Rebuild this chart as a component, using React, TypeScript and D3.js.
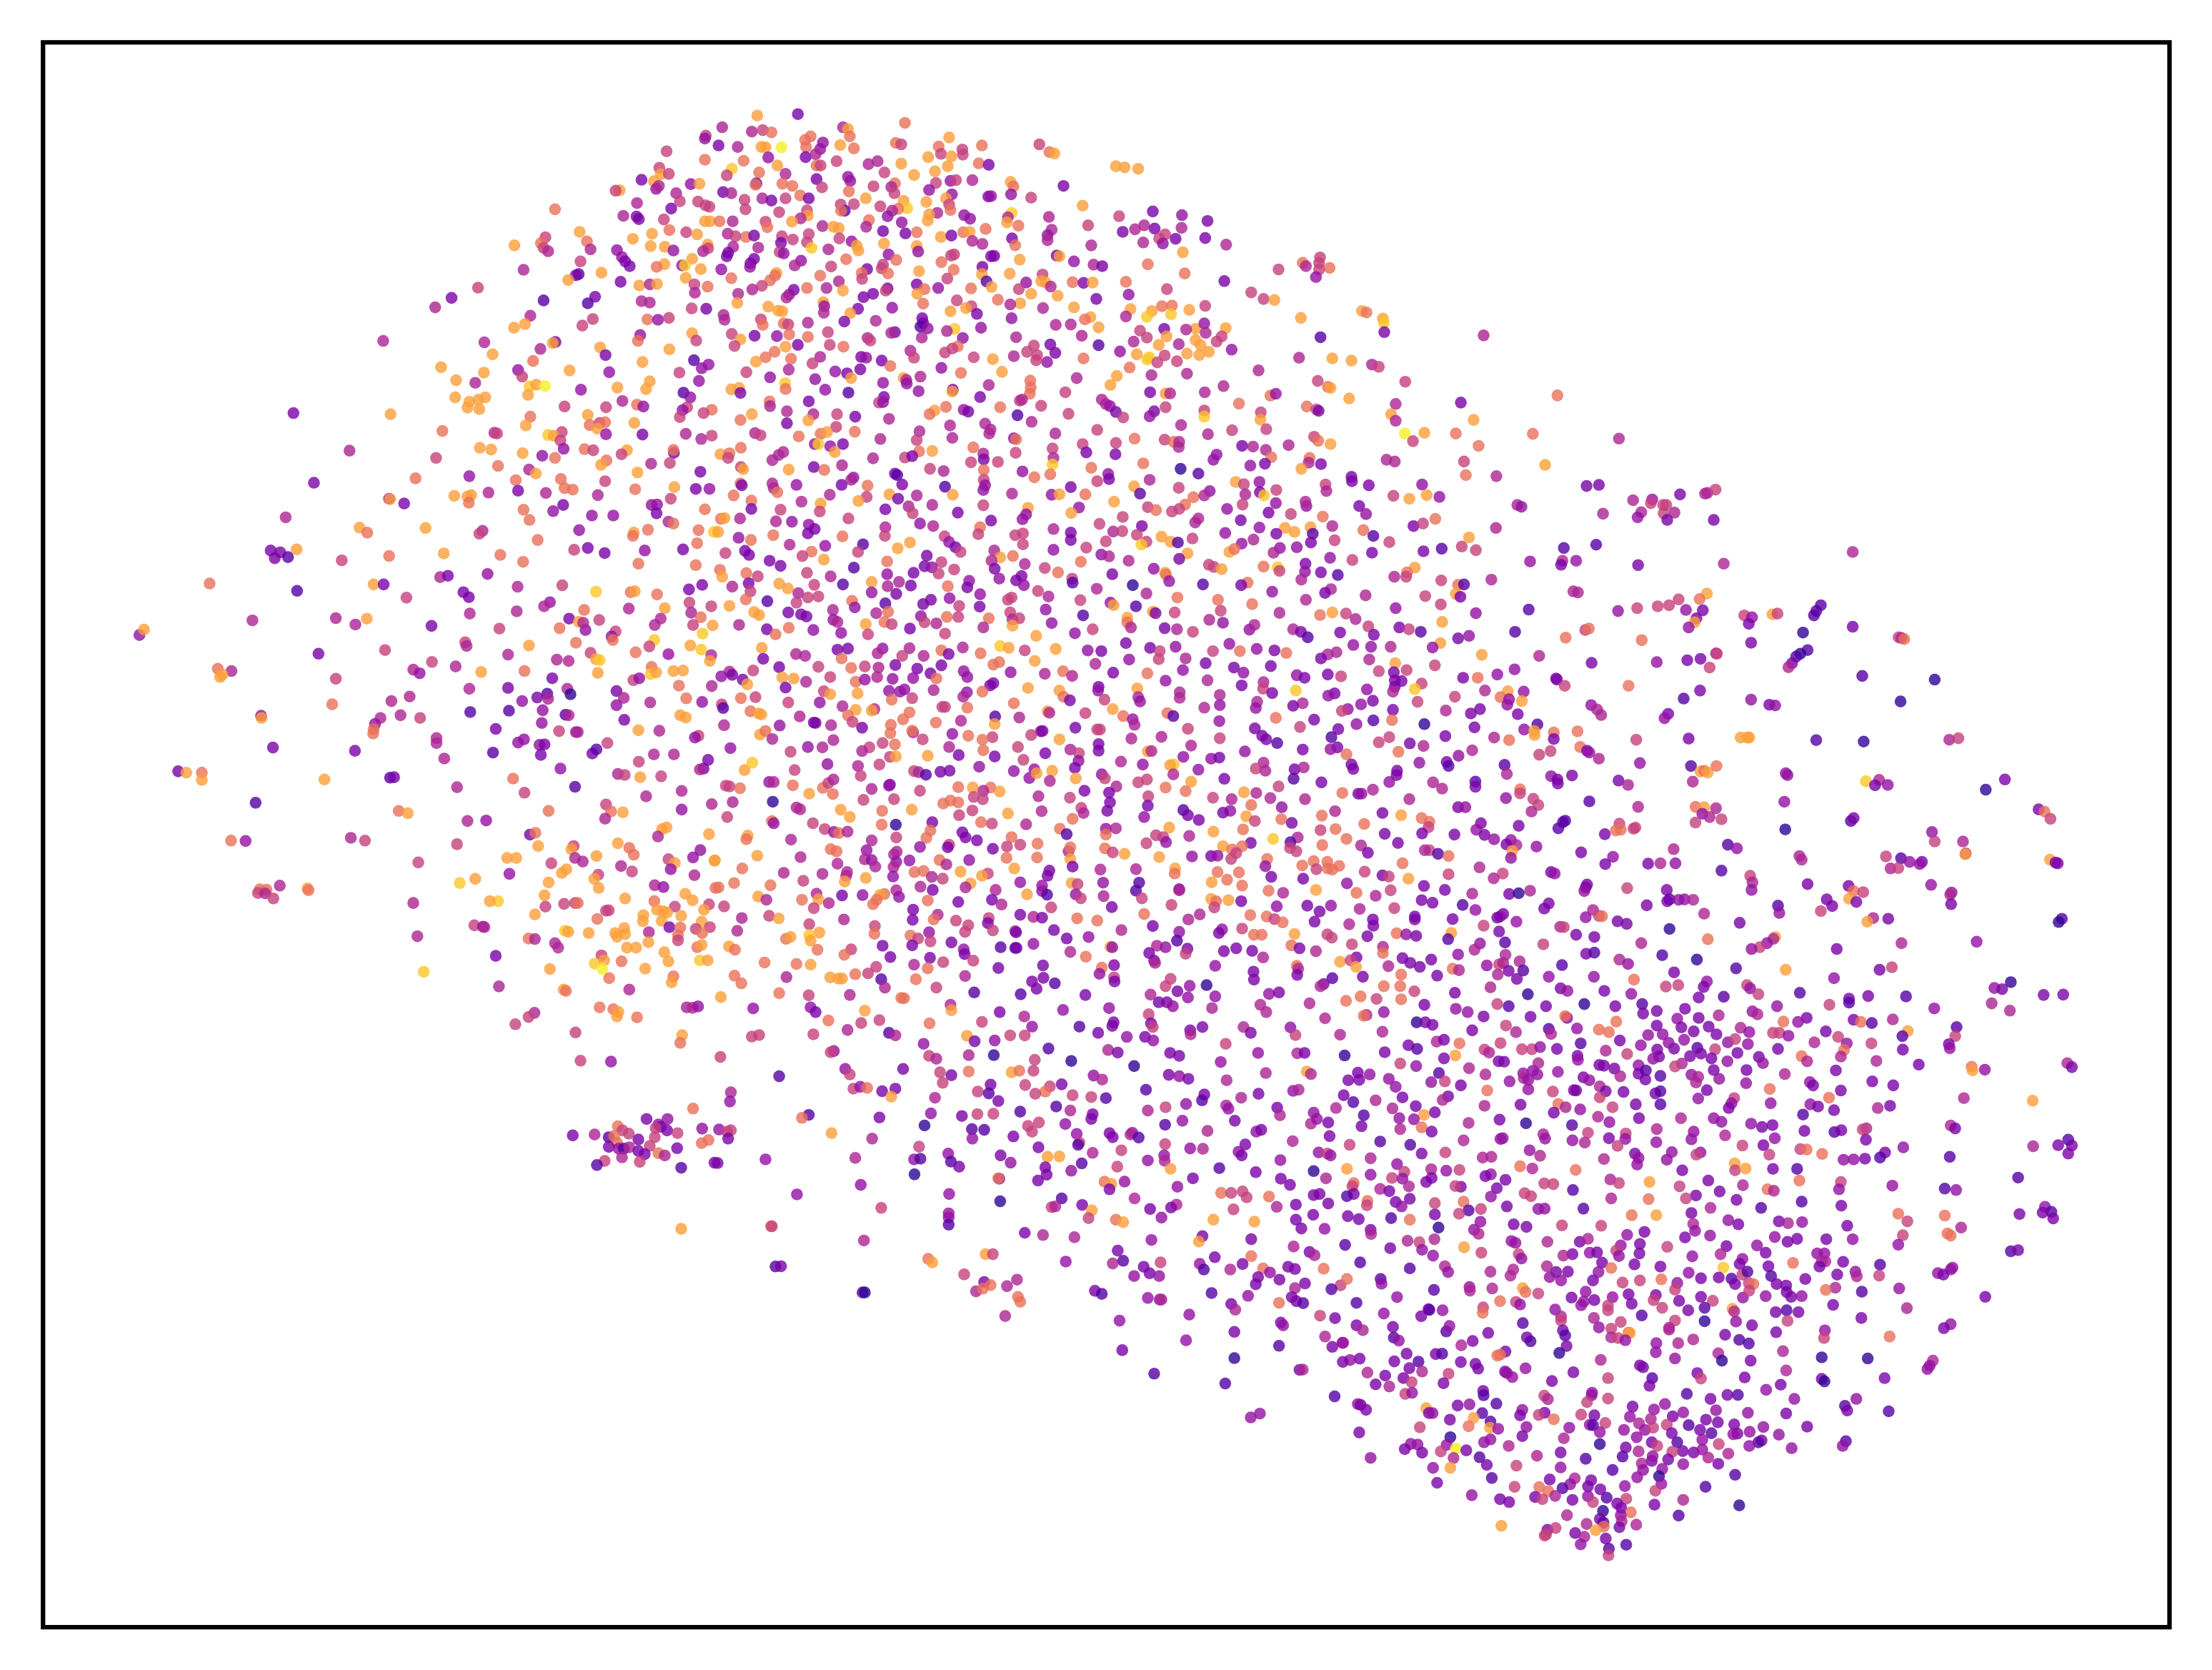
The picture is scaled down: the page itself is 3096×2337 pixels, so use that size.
import React, { useMemo } from 'react';
import * as d3 from 'd3';

// every dot read by eye from zoomed crops of the plot: x, y (crop pixels), colour level 1-10
const upperLeft = [
1549,372,6,1547,380,4,1463,415,6,1547,438,7,1447,460,6,1450,478,8,1468,477,6,1408,493,3,1435,497,8,1360,522,8,1351,523,6,1440,518,4,1446,510,5,1516,505,4,1535,504,8,1484,530,5,1398,557,5,1492,552,6,1532,553,6,1548,563,6,1557,567,6,1218,574,7,1473,572,3,1368,592,5,1397,594,3,1402,601,3,1457,602,6,1547,607,8,1558,607,8,1469,631,7,1506,637,6,1272,636,8,1530,643,8,1431,641,8,1389,655,8,1197,651,6,1187,667,7,1288,662,7,1129,673,8,1428,675,8,1459,677,8,1553,671,8,1554,681,6,1543,689,5,1193,680,6,1203,689,5,1296,684,5,1354,686,4,1478,687,4,1365,705,4,1372,717,3,1274,717,6,1519,710,8,1497,728,4,1503,728,9,1458,725,8,1441,732,7,1382,730,3,1538,738,8,1149,740,5,1270,752,2,1264,755,3,1320,748,8,1505,762,8,1247,768,8,1362,773,3,1403,783,8,1426,780,5,1442,779,8,1524,780,6,1553,786,7,1049,789,6,1525,803,5,991,817,3,1193,824,2,1306,814,3,1290,832,2,955,843,5,1408,826,5,1426,830,5,1518,846,6,1550,847,3,1164,866,5,1301,875,6,1421,876,7,1444,877,4,1468,872,6,1152,889,8,1128,899,8,1278,893,6,1519,914,8,1405,919,4,1400,935,7,1528,934,6,841,935,5,1063,939,5,1219,938,3,1213,941,8,1317,953,8,1186,957,5,1469,958,8,1081,972,8,1329,974,3,1170,990,7,1410,993,8,1523,988,2,1540,1010,4,1555,1000,4,968,1007,8,1062,1022,8,1137,1015,4,1146,1033,6,1250,1016,8,1337,1021,4,1491,1022,6,1001,1043,8,1043,1050,5,1426,1046,8,1534,1045,4,1162,1060,9,1177,1055,8,1196,1059,10,1275,1069,4,1355,1063,8,1418,1067,8,1159,1083,8,1500,1077,2,999,1090,8,1030,1102,8,1050,1096,8,1065,1090,8,1515,1090,4,1366,1100,5,1398,1110,7,1412,1115,4,1026,1118,8,1052,1122,8,1239,1115,6,1330,1117,6,1508,1117,6,1498,1125,4,1562,1124,7,644,1133,3,857,1136,8,1290,1138,8,1164,1143,7,1492,1144,6,1544,1133,6,1154,1167,8,1392,1160,8,1294,1166,7,1316,1160,6,1328,1158,7,1311,1176,8,971,1182,7,1085,1187,5,1091,1189,6,1233,1185,6,1330,1191,4,1203,1193,9,1215,1195,8,1410,1192,3,1505,1190,5,1230,1208,6,1539,1204,5,1562,1195,6,767,1236,5,1053,1228,8,1078,1233,8,1237,1231,4,1283,1232,7,1302,1235,6,1376,1235,8,1479,1242,3,1478,1234,7,1147,1243,8,957,1256,6,1190,1250,4,1218,1256,7,1364,1246,6,1331,1263,7,1319,1275,8,1429,1272,5,1470,1270,6,689,1324,3,1093,1278,7,1161,1288,5,1176,1299,8,1537,1294,3,912,1312,7,1030,1306,4,1132,1317,7,1231,1314,7,1399,1296,8,1328,1320,6,1239,1339,7,1257,1343,7,1480,1336,8,1394,1342,7,1527,1341,3,1557,1341,4,854,1368,4,856,1369,8,887,1381,3,997,1360,8,1026,1362,8,1034,1358,8,1072,1351,5,1137,1346,3,1198,1352,5,1312,1358,5,1472,1368,6,1029,1379,7,1430,1385,4,1442,1384,4,1236,1385,3,1149,1398,7,1214,1402,4,1547,1397,7,1441,1408,3,627,1419,5,1162,1426,7,1299,1414,4,1346,1414,4,1467,1431,5,1478,1436,7,789,1447,8,806,1461,7,934,1448,8,1059,1456,5,1052,1464,6,1271,1454,4,1422,1453,7,1533,1454,7,1391,1461,8,1389,1470,7,1567,1459,9,1180,1481,7,594,1510,3,615,1515,3,651,1507,8,603,1531,3,632,1528,2,750,1537,6,854,1525,7,974,1518,8,1098,1522,7,1260,1508,6,1290,1503,3,1327,1517,3,1499,1507,3,1530,1490,7,1415,1510,4,1148,1541,7,1401,1546,7,1527,1550,7,
];

const upperMiddle = [
94,121,8,183,117,3,418,141,7,17,153,5,82,165,5,106,161,6,125,167,7,282,153,5,293,158,8,515,181,8,297,178,7,211,178,7,199,188,7,9,203,3,51,207,5,103,207,8,112,208,8,147,208,10,201,207,7,238,195,4,232,213,4,276,202,8,306,211,7,398,196,7,410,200,6,492,206,7,497,226,6,544,214,6,545,228,6,587,203,7,713,200,6,735,221,7,746,225,8,881,260,8,900,263,8,930,267,8,118,236,4,200,235,3,222,227,5,64,245,7,268,246,6,358,246,5,338,254,5,469,235,8,520,233,8,410,253,8,580,252,7,602,256,3,38,267,9,138,258,8,512,260,8,224,258,7,233,258,6,98,277,7,156,281,5,27,285,6,373,277,6,484,274,8,438,284,8,293,289,4,298,300,4,224,295,3,518,300,4,530,298,6,566,298,5,486,306,6,650,303,8,92,307,3,90,311,7,149,308,7,171,314,7,236,318,6,349,315,6,396,307,7,388,317,5,656,315,7,766,314,3,19,331,3,37,334,5,295,329,7,471,325,4,395,334,6,521,337,4,601,343,3,607,342,4,651,337,4,105,348,5,66,352,6,125,354,3,156,348,6,188,340,7,207,348,3,332,348,8,415,355,8,465,358,8,508,348,8,695,346,6,68,378,6,142,386,6,277,365,6,306,364,6,364,370,6,515,365,6,808,368,8,423,375,9,286,382,2,278,382,7,203,381,6,403,377,7,390,382,5,518,380,7,489,388,5,380,397,4,652,388,9,888,397,6,962,384,3,1026,394,4,205,395,8,189,403,5,471,392,8,734,399,5,548,394,4,561,404,4,644,400,5,642,414,8,1082,410,3,11,411,7,40,411,5,112,412,6,170,412,8,339,408,7,468,409,8,411,414,4,820,422,6,116,427,7,237,424,5,261,426,8,273,430,8,333,426,5,667,423,7,943,422,5,1025,429,5,923,433,5,966,431,3,370,438,3,419,444,3,29,445,5,444,441,7,546,441,7,560,440,8,595,432,7,740,434,5,896,440,3,69,454,7,87,450,3,148,452,6,207,446,6,497,454,8,520,450,3,653,458,3,731,449,4,989,447,6,46,452,6,172,461,6,146,470,3,274,458,6,301,466,4,566,465,5,588,473,5,731,463,5,976,458,6,1012,459,3,1077,457,3,941,469,5,984,472,4,203,468,6,372,472,8,312,478,8,660,477,7,827,477,5,1123,475,5,41,481,5,96,483,5,444,479,8,213,484,9,250,488,5,316,491,8,30,497,3,447,494,4,143,495,6,152,499,4,1028,496,8,27,507,3,382,502,4,607,507,3,614,506,3,751,505,3,757,507,8,519,505,6,526,502,6,87,514,3,289,515,7,399,517,7,670,516,8,789,521,4,951,529,7,79,526,3,78,536,4,190,519,4,176,532,5,256,535,6,370,530,6,498,523,7,588,536,3,832,530,5,851,534,3,1238,543,6,1291,525,7,1298,534,5,1329,510,6,1327,525,6,1350,539,7,15,543,4,335,542,3,449,548,8,525,544,7,367,540,6,136,553,8,323,553,7,381,554,7,1032,554,7,1327,543,6,232,560,7,648,555,8,720,557,6,587,556,8,37,567,7,122,573,7,324,569,6,511,568,6,1320,564,4,273,576,5,133,560,7,597,576,2,444,584,3,684,579,4,717,575,8,727,579,8,786,578,7,810,580,3,830,579,8,1119,575,3,903,577,7,104,588,6,380,595,3,376,601,6,491,594,4,608,591,8,738,590,5,668,597,6,83,598,5,174,599,3,203,594,7,246,594,5,282,601,8,461,597,7,993,597,6,1178,606,6,563,595,7,348,610,3,52,610,5,164,612,4,158,620,5,327,619,3,445,610,8,695,610,8,753,615,8,909,612,4,1205,624,6,1229,627,8,532,628,6,622,626,7,838,624,3,50,635,8,239,633,8,241,644,4,458,637,7,671,636,8,649,639,5,118,645,8,390,648,4,315,651,3,564,644,6,552,649,8,982,644,7,1004,642,7,789,647,8,1077,643,6,1042,654,8,140,656,8,149,658,8,240,662,5,518,658,8,721,649,5,576,665,3,913,652,8,960,657,8,1002,666,9,20,668,5,298,663,8,949,673,9,22,681,5,102,680,6,652,677,4,456,677,3,825,674,8,813,680,7,903,672,5,1287,676,8,1421,657,8,1431,661,7,1467,678,8,1469,689,9,285,686,3,354,684,5,152,691,7,162,694,6,106,695,7,205,689,5,458,690,3,782,694,5,749,695,5,585,703,4,843,702,8,1122,704,8,1056,706,8,1075,691,4,452,700,2,468,705,4,527,706,9,396,715,3,388,717,5,249,715,6,38,720,6,987,706,3,1035,708,5,1078,717,5,934,711,6,510,712,5,1470,715,3,88,725,3,137,726,4,164,721,7,205,728,7,662,729,5,806,725,5,992,727,8,455,730,5,1330,729,2,1113,727,6,57,735,8,336,731,5,342,738,6,545,731,4,949,730,6,1056,737,8,920,741,5,1102,741,6,44,753,6,183,750,3,156,755,8,253,750,6,283,755,7,1019,748,5,701,752,6,737,749,3,534,754,7,843,751,2,975,750,8,1067,751,8,522,760,6,430,766,5,890,768,4,1135,763,4,132,769,7,748,772,3,506,771,6,686,769,6,1085,769,8,708,778,6,927,776,8,1037,774,8,1064,778,8,232,783,5,657,781,5,438,785,6,569,784,6,988,779,6,954,784,9,1283,785,5,1356,787,8,112,784,7,168,788,7,322,783,3,333,785,4,730,797,4,810,787,7,611,789,8,367,793,3,950,790,9,91,796,8,215,801,6,706,792,6,1015,795,6,972,798,6,1398,793,8,1443,804,5,1458,810,6,386,808,7,498,813,4,1194,820,5,911,812,7,320,817,3,163,818,5,70,825,6,265,823,4,631,824,8,541,827,7,1037,829,5,291,828,3,959,833,5,122,839,4,221,844,4,300,841,8,795,841,5,883,835,8,415,841,8,421,846,5,452,837,5,693,848,7,1516,851,6,1324,849,6,422,856,4,370,854,4,155,855,9,156,871,7,869,860,8,1346,865,7,1352,868,8,1117,863,5,602,860,5,523,873,3,522,878,8,694,867,7,37,872,8,54,868,8,57,882,3,243,873,4,448,877,4,294,881,2,770,880,6,692,884,7,956,880,3,990,883,8,1000,883,5,1076,880,5,1220,889,7,1232,884,4,372,893,3,583,893,3,1393,897,8,850,900,5,
361,908,6,370,907,4,207,905,3,121,905,7,122,918,5,508,920,7,1151,911,7,859,912,5,868,918,4,627,921,7,717,917,6,670,903,6,675,900,5,1300,919,7,1495,912,5,1321,927,6,1326,931,3,990,921,6,881,934,3,897,949,6,483,930,8,472,940,7,547,928,4,557,933,3,159,932,5,217,940,5,269,940,6,82,940,8,1075,930,6,1199,935,6,965,932,3,955,946,4,777,939,6,665,943,2,1485,940,8,383,953,5,57,956,7,206,957,8,309,947,3,1075,947,9,1198,955,8,696,961,5,1495,958,5,1211,981,6,159,965,3,267,975,6,1024,970,5,517,971,5,594,966,5,606,982,5,1136,984,6,89,992,5,101,998,6,185,1001,7,233,994,7,247,989,8,308,988,7,450,987,5,603,993,5,748,993,5,840,983,6,1083,995,5,1515,993,10,1558,991,8,1533,1014,6,364,1008,5,444,1011,6,522,1005,5,657,1006,4,662,1009,7,922,1007,7,881,1019,6,808,1022,6,1316,1002,6,1325,1013,7,1352,1022,8,220,1022,4,228,1022,9,282,1022,3,254,1028,4,988,1010,6,1008,1016,7,1020,1016,5,58,1032,7,568,1031,7,1158,1027,3,1182,1029,5,1210,1038,5,1260,1025,5,742,1034,6,1019,1030,5,449,1042,7,478,1041,8,264,1044,8,151,1044,5,141,1052,5,590,1048,5,661,1046,6,816,1045,3,880,1050,3,1102,1051,4,13,1050,8,33,1047,7,418,1059,6,434,1055,3,127,1066,5,30,1060,6,348,1061,5,591,1064,3,744,1060,5,1095,1065,4,1222,1058,7,1306,1060,7,1475,1065,5,1493,1070,5,563,1072,6,622,1071,6,1304,1073,5,742,1078,9,941,1075,7,1331,1077,3,1176,1081,4,1208,1076,3,218,1085,3,280,1080,5,58,1085,6,63,1091,8,163,1092,8,241,1093,7,1288,1090,8,473,1090,6,503,1096,5,591,1093,7,827,1087,7,676,1097,4,396,1103,3,401,1107,2,305,1114,4,864,1104,4,866,1118,3,591,1120,6,737,1105,7,702,1113,7,955,1120,5,1398,1112,3,1399,1124,3,1436,1135,3,840,1124,6,412,1133,3,180,1134,4,127,1130,5,279,1134,3,300,1120,5,1023,1090,1,1062,1103,2,1144,1126,8,1196,1126,4,1162,1132,6,57,1130,7,60,1135,3,506,1139,2,594,1135,4,130,1143,5,336,1136,7,921,1138,8,1019,1142,6,1341,1133,6,1343,1151,5,1553,1133,4,782,1140,3,590,1148,4,1233,1148,6,444,1163,5,138,1154,7,934,1158,2,1087,1151,4,1197,1154,3,1206,1163,9,253,1161,5,42,1163,7,384,1160,8,523,1161,8,653,1158,5,740,1161,4,757,1160,8,814,1160,7,1165,1160,5,1490,1164,6,1563,1162,8,403,1172,3,334,1167,6,81,1177,7,1051,1168,7,1075,1163,5,1525,1172,8,316,1178,8,191,1180,5,877,1180,8,478,1189,5,233,1185,8,1232,1184,4,1033,1188,7,1299,1192,4,1297,1180,5,1159,1188,6,426,1193,5,590,1190,6,688,1197,8,951,1195,6,800,1196,4,1415,1192,3,81,1200,3,145,1202,6,375,1201,3,969,1203,7,1125,1200,4,1020,1200,6,1004,1207,6,1430,1214,4,231,1207,6,435,1212,6,534,1210,3,783,1211,8,1216,1210,3,684,1215,4,1265,1214,6,1335,1221,7,1062,1226,5,56,1226,5,294,1226,6,676,1228,4,896,1222,6,14,1227,7,22,1225,8,135,1234,5,170,1235,4,451,1240,4,607,1232,3,1155,1231,3,1055,1237,5,1356,1247,5,845,1241,6,1534,1247,3,1555,1240,6,207,1243,4,480,1247,5,938,1247,3,1252,1252,8,1196,1251,4,1308,1250,8,220,1255,3,375,1250,5,744,1255,5,583,1250,7,8,1263,8,782,1265,3,1424,1258,7,1446,1274,2,1121,1266,4,205,1267,3,129,1272,7,505,1275,6,579,1269,6,660,1272,6,677,1267,6,875,1262,5,895,1261,6,927,1271,6,1233,1268,3,1273,1263,8,1313,1268,2,53,1279,4,80,1285,7,281,1275,7,374,1274,6,981,1276,8,782,1285,3,859,1289,6,1049,1281,6,515,1291,4,1001,1290,8,1157,1295,4,1183,1284,5,1017,1292,2,1309,1292,3,1361,1286,6,1481,1291,6,165,1298,5,326,1297,2,243,1301,4,948,1290,6,937,1298,9,677,1297,6,529,1305,3,1241,1307,4,1278,1305,4,1556,1316,3,67,1315,3,76,1326,3,315,1318,6,213,1317,7,24,1321,6,402,1308,8,429,1292,8,540,1318,6,614,1314,5,816,1306,6,744,1312,4,1443,1320,3,1227,1320,5,1038,1322,8,1130,1318,8,1141,1310,7,849,1325,4,866,1330,5,193,1329,6,466,1328,3,627,1333,8,655,1329,7,1020,1337,3,1351,1334,4,1400,1340,6,121,1342,3,240,1339,8,379,1344,7,498,1346,6,608,1342,5,909,1342,5,804,1345,7,145,1356,3,681,1351,5,461,1357,3,477,1360,4,526,1366,6,615,1364,3,725,1362,6,1085,1353,6,1096,1359,6,1113,1365,8,1205,1358,7,1236,1360,9,1297,1350,3,1537,1361,8,306,1361,2,12,1367,7,203,1375,6,492,1377,6,754,1374,7,964,1364,4,1240,1370,6,1296,1372,4,70,1376,7,379,1379,4,1331,1374,3,1368,1381,2,1492,1386,5,1520,1374,7,1518,1386,6,989,1375,8,991,1380,7,873,1379,3,95,1385,6,17,1386,8,255,1385,5,437,1375,3,674,1384,3,625,1391,4,785,1391,6,998,1398,4,662,1396,3,1288,1394,5,345,1400,8,405,1400,5,142,1405,8,559,1397,4,75,1404,3,786,1402,2,1170,1402,7,219,1408,6,282,1407,2,380,1412,5,431,1410,3,512,1412,7,679,1409,4,918,1409,1,1072,1407,2,1156,1409,3,555,1415,3,161,1418,8,39,1413,5,79,1426,6,345,1429,4,399,1433,3,710,1425,6,839,1419,5,1224,1427,4,1353,1420,5,1340,1430,3,184,1431,5,583,1434,4,733,1440,5,948,1432,5,228,1440,6,205,1443,6,116,1453,2,1016,1443,7,1105,1449,7,1429,1437,5,1560,1439,6,69,1448,7,180,1457,6,516,1445,4,644,1449,6,652,1443,6,803,1450,6,869,1457,4,876,1464,8,302,1452,7,475,1449,3,375,1459,2,1180,1461,7,33,1466,8,458,1461,3,537,1466,6,582,1468,3,925,1467,2,1240,1485,5,1298,1449,5,1495,1472,4,87,1483,8,98,1491,8,260,1477,5,308,1470,4,727,1476,4,1111,1479,6,1010,1484,6,962,1482,8,968,1486,3,649,1484,6,1329,1491,7,1356,1484,8,1386,1487,6,381,1482,7,162,1484,3,190,1489,3,202,1495,3,355,1486,5,453,1494,4,809,1492,2,1086,1504,5,1116,1512,4,906,1498,8,510,1496,7,535,1496,6,602,1500,7,1407,1502,5,261,1504,4,270,1510,5,373,1510,7,654,1503,5,669,1500,6,906,1511,7,988,1527,3,1015,1530,5,54,1518,5,332,1516,8,389,1516,6,461,1511,6,487,1514,5,740,1513,4,1174,1531,4,1185,1518,5,1270,1530,5,1287,1537,3,1503,1525,3,1435,1522,6,1524,1530,6,1550,1537,2,115,1530,3,163,1526,7,217,1532,4,429,1528,3,590,1525,5,654,1520,8,830,1530,6,1050,1537,6,914,1525,5,278,1540,4,134,1544,7,506,1542,6,337,1544,6,791,1541,4,706,1548,8,1447,1545,3,1373,1539,3,1302,1552,2,
];

const rightTop = [
120,1108,5,70,1390,3,282,1360,7,98,1463,8,
];

const rightMiddle = [
59,13,7,228,14,7,417,27,5,109,47,7,255,99,8,77,90,6,81,127,7,148,130,5,346,157,3,373,154,3,23,187,4,194,209,5,203,214,4,448,196,5,490,194,4,487,204,6,514,209,6,521,209,6,551,180,3,606,178,5,611,176,5,629,167,6,466,229,5,458,243,4,539,230,5,515,232,6,382,233,5,523,250,3,625,250,3,14,247,7,147,272,5,88,298,8,72,323,6,103,333,6,28,329,2,296,327,2,367,318,2,222,364,4,293,362,5,290,373,3,323,362,4,459,374,3,647,370,5,930,338,5,27,416,6,137,414,5,64,428,7,77,427,2,317,446,5,327,449,5,59,453,8,69,461,3,26,482,6,610,452,8,594,467,7,548,468,6,502,487,6,527,484,6,457,492,6,564,497,4,601,498,3,103,506,4,219,496,2,415,500,4,692,512,6,709,517,4,754,509,8,765,507,6,860,484,2,850,500,2,845,512,2,702,535,3,587,520,3,583,531,8,570,545,4,29,530,8,930,543,3,189,557,2,343,552,6,351,548,7,821,559,1,64,575,3,88,568,4,300,573,7,1031,572,6,1037,574,5,1043,577,7,467,580,7,25,588,8,707,587,3,8,600,4,116,620,8,831,607,2,815,617,1,806,625,2,242,623,5,630,616,5,632,617,6,13,649,6,357,642,3,500,640,4,567,635,3,596,631,3,616,655,6,797,643,3,789,654,5,150,674,4,75,683,3,107,683,7,188,660,4,951,678,2,1110,688,1,281,688,4,279,685,3,298,705,6,438,705,7,173,720,8,208,721,4,123,718,5,595,718,3,57,735,6,157,736,7,204,747,8,176,742,4,172,757,4,559,740,2,707,743,4,747,757,3,760,759,4,1035,748,1,37,773,5,112,769,3,92,781,3,195,783,3,356,758,4,369,770,5,378,785,5,525,782,3,517,794,4,238,811,2,100,819,3,209,825,4,231,829,8,232,840,8,274,833,7,326,830,7,36,843,3,143,847,5,176,854,7,274,851,3,455,853,6,570,850,3,684,847,8,699,847,8,703,847,8,850,854,2,954,858,1,1142,853,5,1162,849,6,95,882,5,332,873,7,347,883,3,352,888,4,373,905,5,242,894,6,267,884,6,65,897,4,39,914,3,43,925,2,166,922,2,463,917,4,575,925,2,596,940,8,604,938,7,612,943,8,631,925,7,171,947,5,268,953,4,282,962,3,283,973,3,314,951,3,783,945,4,787,950,4,416,965,3,437,977,5,579,968,5,959,967,9,988,963,5,979,978,3,1007,977,4,1222,990,1,1264,962,3,9,970,5,29,987,5,102,968,2,102,982,3,200,989,7,200,1000,6,169,1013,4,229,1015,6,240,1032,6,225,1050,5,352,1022,2,459,1037,5,780,1023,4,64,1038,3,80,1038,4,585,1037,7,604,1038,8,630,1041,5,600,1056,4,616,1065,5,642,1071,6,585,1080,6,926,1076,2,932,1068,3,1338,1044,3,1351,1050,7,1364,1070,6,1,1078,7,114,1082,3,197,1089,3,104,1100,4,122,1114,3,56,1113,3,143,1126,4,299,1075,2,294,1079,2,284,1096,2,386,1112,3,418,1083,6,410,1102,7,421,1100,7,449,1097,6,453,1094,6,782,1099,1,1104,1106,4,1110,1132,6,180,1128,4,192,1142,5,170,1140,3,236,1146,4,656,1141,2,676,1151,4,537,1153,5,1172,1132,5,1,1156,6,20,1166,2,43,1172,7,183,1158,8,334,1162,3,404,1174,4,180,1177,4,813,1172,5,818,1182,5,1003,1173,6,1036,1178,2,1055,1188,4,1082,1188,3,1077,1194,4,1178,1165,5,1177,1167,8,1363,1182,8,1375,1190,3,1380,1192,3,111,1203,5,387,1194,3,481,1193,3,508,1192,5,541,1192,4,642,1212,2,1013,1206,5,1030,1205,6,43,1222,6,162,1220,6,142,1233,5,268,1216,3,276,1220,4,705,1226,6,710,1244,5,708,1265,4,831,1249,3,35,1265,3,95,1275,5,222,1267,5,176,1276,3,197,1274,1,435,1260,6,522,1265,3,347,1250,3,344,1258,3,341,1268,4,921,1254,3,932,1268,7,953,1271,6,1102,1251,4,1147,1272,4,1144,1278,5,528,1291,2,523,1296,3,548,1292,4,561,1291,4,580,1292,5,873,1291,3,922,1289,8,938,1298,3,8,1300,3,74,1306,2,478,1307,3,263,1302,3,253,1316,3,766,1308,2,885,1309,3,1146,1304,3,102,1320,4,604,1330,5,769,1328,4,860,1323,6,360,1320,5,373,1336,6,163,1331,3,156,1338,4,150,1341,3,344,1340,4,380,1337,7,52,1345,3,192,1352,4,288,1366,5,296,1367,6,414,1351,3,434,1358,3,682,1355,3,975,1342,5,1008,1344,3,962,1352,8,1389,1344,2,1382,1353,1,120,1363,6,154,1379,3,323,1388,3,528,1372,1,49,1383,8,42,1400,2,363,1394,3,612,1400,7,760,1394,8,756,1399,5,742,1411,4,167,1409,2,112,1412,4,100,1429,5,251,1414,6,466,1411,5,726,1422,6,708,1427,4,895,1427,3,1037,1411,5,1202,1407,4,64,1442,4,168,1443,5,345,1440,3,363,1437,2,512,1444,2,418,1456,5,437,1468,4,5,1456,3,199,1461,5,292,1471,2,154,1469,6,163,1465,5,127,1472,4,52,1481,7,66,1485,5,588,1456,1,674,1480,2,783,1484,8,989,1484,3,1016,1477,6,207,1486,2,175,1487,3,538,1491,3,263,1503,4,362,1503,4,450,1511,7,193,1509,3,18,1500,3,151,1497,5,889,1507,4,610,1516,4,603,1531,3,520,1530,6,547,1526,6,698,1526,6,705,1535,4,135,1532,5,1277,1518,1,1241,1534,4,1258,1537,3,57,1547,3,289,1535,3,304,1542,4,385,1542,3,444,1550,4,217,1551,1,723,1551,6,814,1547,2,922,1563,3,964,1556,3,592,1560,3,647,1558,2,1047,1557,2,1349,1553,3,1392,1552,3,
];

const lowerLeft = [
460,26,7,652,42,2,820,28,8,842,28,3,966,12,5,983,9,3,1070,5,4,1136,33,5,1234,30,6,1308,44,9,1017,45,3,1029,56,3,1384,45,7,1393,43,8,1442,50,7,1512,39,3,1541,29,3,892,57,6,1207,67,4,1194,76,5,1282,84,7,1134,87,5,1380,81,5,1459,80,8,1513,68,6,1561,76,6,1031,92,5,1517,90,5,554,107,5,737,102,5,780,116,5,805,103,8,1249,103,3,1270,110,8,1315,106,6,1450,103,5,1538,100,7,947,119,3,1096,125,6,1228,124,7,1285,128,4,1280,112,5,1351,131,6,1437,117,5,1521,117,6,1564,118,8,306,139,4,316,127,8,1342,142,4,1345,150,7,1436,150,9,1542,136,9,845,172,6,699,180,3,1021,155,6,1024,163,5,1161,162,8,1264,156,7,1425,164,6,1515,162,8,1539,171,9,1296,178,6,1395,177,7,1467,181,4,1561,183,5,1115,182,5,1222,193,5,1248,196,5,1308,192,8,1316,194,9,948,198,6,1000,208,5,1558,196,8,478,213,7,508,218,5,488,226,8,483,231,8,907,215,5,921,223,4,1056,220,8,1151,218,7,1430,209,7,1478,218,8,1499,217,8,1312,222,8,1428,225,9,1440,221,8,737,235,6,1212,234,3,1390,238,6,1403,234,4,1115,255,3,1030,257,5,1490,250,7,1562,251,5,1245,257,5,1353,262,3,1201,268,2,1252,269,1,1179,276,3,1203,279,5,899,274,5,1146,284,4,1369,277,5,1506,278,7,1427,287,5,1541,286,4,859,284,5,729,291,7,1353,293,4,1191,304,4,1032,308,2,1117,305,2,573,316,4,574,321,8,835,321,5,879,315,5,922,321,6,1241,314,2,1248,315,5,1493,315,8,1505,320,8,1370,325,3,1189,332,4,823,334,4,820,346,7,1088,345,3,819,355,7,1227,350,6,1264,352,4,1268,352,5,1401,348,8,1447,349,5,1533,360,6,1525,364,4,958,365,5,958,376,5,1150,368,4,1137,375,4,1333,376,6,599,386,3,779,393,3,1184,380,4,1195,379,3,1082,397,2,1300,399,3,1309,390,2,975,410,5,1187,402,3,1435,401,5,1479,401,5,1402,417,6,1554,413,3,1230,432,4,1544,432,3,1536,434,5,391,438,3,409,441,8,443,441,7,443,457,8,712,456,8,856,452,2,865,451,3,1356,444,5,1371,446,6,1405,451,8,1451,449,6,1262,472,2,1003,473,5,1126,454,7,1496,481,5,1151,485,6,1418,493,5,561,507,2,1330,511,6,1562,510,5,875,525,7,895,530,8,1341,526,7,1367,528,8,1496,522,4,1204,525,7,1328,542,5,1026,547,5,1067,546,4,1453,565,8,1463,561,8,1444,581,5,1163,577,3,1175,573,7,1556,576,8,507,590,7,539,591,4,770,584,5,801,590,6,1003,598,6,1181,602,8,1356,596,8,1381,606,7,1259,602,6,1254,609,8,1391,621,7,1537,611,4,1309,624,8,1113,628,8,1133,628,8,1262,628,5,1279,636,5,1467,631,6,1521,627,4,1481,639,8,1568,634,8,918,638,6,1210,640,6,1363,646,5,1243,653,8,1472,653,4,1387,658,6,1233,661,8,1118,663,4,1313,665,6,1524,666,5,1043,674,8,1009,683,9,1304,674,8,1204,682,8,614,689,5,570,697,7,585,698,7,566,705,6,582,706,5,600,717,6,675,695,8,677,699,7,1314,694,8,1437,688,5,1456,692,4,1570,694,7,1195,710,8,1504,707,8,1372,717,8,1093,723,9,1075,723,8,1520,721,8,907,727,5,1238,729,6,1262,727,6,1268,727,7,1436,723,7,1481,735,6,1556,730,6,1197,735,6,1330,744,6,1336,743,6,1442,742,8,1455,745,8,1464,748,8,1545,742,8,1174,752,8,1412,754,8,1495,755,8,1311,762,7,1452,766,8,1411,767,8,1540,768,8,1469,780,3,1493,781,7,1527,784,6,1558,780,6,1041,776,6,1060,779,4,1063,780,5,1370,782,8,1240,788,9,1247,790,8,1292,793,8,1350,793,8,1372,795,8,1354,801,8,1424,791,5,1541,793,7,916,800,5,1488,798,7,1488,809,6,1160,805,7,1174,806,5,1423,813,8,1218,815,5,1225,825,5,1376,825,8,1396,825,8,1530,824,7,1540,819,8,1458,835,8,1088,843,3,1320,842,6,1305,860,9,1326,853,8,1364,855,7,1467,855,8,1536,853,9,1553,853,8,1322,872,10,1207,872,8,1416,871,8,930,878,9,1337,892,7,1478,888,7,1474,901,8,1095,910,5,1237,917,8,1242,920,7,1381,917,5,1316,956,7,1346,960,7,1507,956,5,1520,957,5,1532,954,4,1357,966,8,1354,976,8,1398,978,7,1173,968,5,1160,977,6,1131,993,6,1263,1011,6,1497,1017,8,1493,1034,7,1274,1073,6,1341,1075,4,1521,1178,7,1419,1201,3,1465,1201,4,1356,1217,7,1445,1213,4,1450,1218,3,1439,1221,6,1464,1226,3,1541,1222,4,1366,1226,6,1257,1237,3,1305,1235,5,1380,1233,6,1487,1232,6,1336,1241,2,1348,1238,7,1437,1241,6,1401,1246,3,1555,1247,7,1540,1254,7,1354,1253,7,1426,1260,6,1336,1262,3,1486,1265,3,1358,1266,4,1369,1266,2,1381,1263,5,1401,1271,3,1415,1278,3,1445,1276,7,1459,1281,5,1365,1285,5,1327,1293,6,1404,1295,6,1310,1302,2,1495,1308,2,1568,1297,3,1495,1442,8,
];

const centre = [
104,13,8,179,30,5,199,35,5,270,18,3,293,15,3,369,15,4,358,28,5,428,14,5,459,35,5,498,20,7,514,30,3,545,12,5,584,28,7,627,8,9,646,13,8,681,20,6,749,16,8,819,20,4,849,22,3,903,0,3,956,13,3,977,22,6,1012,10,4,1094,22,6,1130,2,4,1153,22,7,1190,16,4,1229,20,3,1255,27,7,1365,25,5,1346,31,5,1402,5,4,1441,10,4,1484,10,5,412,35,6,107,43,3,279,42,7,703,49,8,910,45,4,1034,42,5,975,44,6,1331,42,3,1437,45,5,1494,55,8,228,65,6,142,66,3,85,75,6,300,68,7,330,64,6,360,67,5,397,60,3,445,70,3,498,61,3,612,59,7,625,52,7,836,57,5,1028,74,4,1078,55,3,1140,67,3,1221,63,3,1161,81,4,950,83,7,1519,74,6,1458,77,6,33,78,5,39,87,3,15,91,4,62,100,3,474,83,3,547,77,4,650,80,4,725,84,5,765,77,7,875,81,3,785,90,5,149,94,8,174,97,8,201,106,5,254,93,6,310,106,7,330,100,4,357,93,5,391,98,4,436,96,4,487,97,7,555,93,4,1278,88,4,1295,95,3,1346,86,3,1375,91,6,1491,80,3,1493,102,3,990,103,4,1082,102,5,1508,104,3,1552,111,6,72,113,8,156,122,3,240,132,6,254,140,8,314,138,8,383,131,4,407,133,4,417,127,4,481,129,5,612,110,3,605,116,3,688,123,8,757,130,8,843,120,3,842,130,4,928,124,8,1021,135,5,1021,150,5,1109,142,5,1157,116,3,1205,107,5,1204,125,6,1224,137,3,1276,130,9,1361,138,3,1347,144,4,1432,127,4,1537,126,9,1493,120,3,1489,133,5,58,151,7,90,148,6,162,163,6,231,163,4,281,173,5,389,155,7,434,151,6,554,135,4,546,147,5,588,133,7,766,147,7,780,157,3,856,155,6,930,148,5,934,160,4,1109,170,4,1191,161,5,1291,165,5,1270,172,3,1445,158,3,1419,168,4,1543,161,6,16,168,6,19,178,2,79,187,7,97,193,8,103,196,8,310,183,8,351,181,5,345,185,8,500,175,6,506,175,6,555,177,7,657,165,7,874,181,8,1075,177,5,1188,178,4,1390,181,4,1377,186,6,1489,183,3,187,201,5,293,198,7,428,190,7,731,187,8,735,191,5,814,192,6,994,192,7,1007,200,2,897,200,7,616,201,2,669,204,5,218,218,3,222,219,3,303,216,6,414,209,7,541,213,5,918,209,4,1232,205,7,1316,210,3,1446,212,2,1487,211,7,1558,222,1,21,225,5,143,226,4,256,225,5,324,232,3,387,224,7,486,218,7,615,222,8,1108,214,4,1409,222,4,922,224,5,1039,235,6,1186,234,3,1285,230,6,1369,236,3,840,237,6,846,237,6,792,232,3,716,242,4,720,241,3,386,247,7,436,245,5,434,240,7,522,249,4,557,254,7,695,252,6,100,251,8,112,241,7,127,263,5,261,266,5,457,264,6,610,258,6,915,262,5,981,257,5,1109,261,6,1202,254,3,1354,258,2,1481,258,6,1211,264,3,1235,274,2,757,264,8,588,265,7,369,274,6,396,278,7,843,277,3,1458,272,6,1526,275,3,1556,282,5,35,288,4,167,298,6,205,285,4,237,286,5,340,286,6,515,285,5,666,285,6,1046,281,5,1367,286,3,1352,291,4,843,295,3,781,292,5,590,294,7,324,296,5,951,297,8,959,296,5,1164,297,4,1291,292,3,1501,298,7,1387,305,7,800,302,6,726,302,3,468,309,8,536,307,3,615,311,3,385,312,6,398,311,8,1029,312,4,1090,317,4,1108,314,3,1205,328,5,678,320,6,799,323,4,892,325,5,248,332,4,315,337,5,362,333,6,940,333,4,1008,333,9,1000,335,8,1398,333,3,1402,345,3,1547,328,4,176,348,6,581,339,4,702,346,4,741,350,8,1062,347,4,1188,344,6,1209,350,5,1273,346,3,1293,341,5,1498,350,3,66,348,8,83,328,9,791,342,3,438,351,6,448,354,5,464,361,2,496,353,3,516,350,3,657,351,4,1497,362,3,850,360,4,857,371,6,321,364,6,1007,360,5,691,370,4,707,357,8,793,371,8,1119,372,3,1271,372,2,120,381,4,130,381,5,25,391,6,33,393,6,56,398,7,172,390,7,238,397,7,250,384,6,261,374,5,385,388,3,736,378,5,949,374,6,930,382,6,1046,380,8,1332,382,3,1481,381,4,345,400,5,383,391,4,535,395,7,567,396,8,606,396,7,590,405,5,882,393,5,990,396,7,1238,393,6,812,405,3,1034,406,7,1162,409,8,1189,411,5,1445,402,5,1378,411,7,1413,413,3,1420,413,4,208,413,8,260,414,7,451,405,6,626,407,8,866,410,3,952,420,6,711,420,5,1220,425,5,1296,428,5,40,436,5,128,435,1,327,430,6,394,428,6,569,422,6,589,428,6,780,424,6,868,437,3,1094,424,6,1135,428,5,502,440,7,518,432,7,535,437,7,1525,428,5,180,451,5,188,456,5,277,457,8,433,457,8,805,452,6,951,446,3,1178,444,7,1029,458,2,1132,460,4,1245,450,4,1116,465,3,566,459,6,718,461,5,810,466,5,862,460,3,28,477,6,297,477,8,368,460,7,537,472,6,644,467,8,1039,472,3,1063,485,3,943,477,4,1362,461,5,1466,466,3,1507,472,8,1167,475,8,1333,473,7,1552,480,7,126,488,7,130,494,4,216,494,6,585,491,7,609,495,6,684,497,5,786,482,7,1186,488,6,1244,483,7,1426,496,7,1267,493,3,478,491,3,367,498,7,398,498,1,242,510,6,262,518,4,273,521,7,292,517,5,474,514,7,758,509,7,859,509,4,881,508,5,998,506,8,1160,511,7,1363,510,7,1330,513,6,1567,505,6,1553,522,3,1471,523,3,73,528,8,70,538,7,168,539,5,399,533,6,465,534,7,544,519,3,773,524,2,859,525,7,1095,517,8,1042,529,5,969,527,6,985,532,6,1226,537,9,1280,533,5,1387,537,7,345,541,5,551,533,3,576,541,3,652,532,7,991,546,4,1264,546,2,1500,548,3,515,553,6,451,559,4,512,560,3,642,558,6,671,553,6,709,550,7,948,549,6,1177,548,3,1334,554,7,1419,555,5,255,565,7,268,571,7,334,568,4,611,564,3,1116,557,8,1158,557,7,1263,562,6,1277,571,6,857,563,7,874,574,6,777,571,5,781,560,7,1434,575,3,94,583,8,189,587,5,1,596,8,394,580,5,400,572,5,976,587,8,1048,585,4,1090,584,3,1104,583,4,1136,566,7,1145,576,6,1134,592,6,641,589,7,708,588,7,781,592,8,330,593,5,345,595,4,399,600,4,494,595,7,559,595,4,900,578,8,1213,592,7,1559,568,5,270,605,5,353,613,5,428,596,4,509,607,5,786,613,3,1209,612,4,1290,610,7,1315,598,7,1345,600,7,1371,611,7,1510,604,7,61,618,7,393,614,5,658,618,8,1011,618,8,1321,620,6,1346,618,7,1356,621,7,152,630,5,237,633,5,291,628,5,439,628,7,459,625,7,540,627,8,600,632,6,735,624,3,847,621,5,925,620,5,1104,628,7,1151,629,7,1427,627,6,1010,632,7,1466,637,3,1480,640,6,392,640,4,289,638,5,477,641,5,501,646,6,587,638,8,731,638,3,1222,641,3,1292,646,3,332,644,8,43,658,7,195,652,6,286,654,8,1125,649,7,671,656,4,853,657,4,932,657,2,1091,656,8,1523,646,8,562,659,8,784,658,8,797,661,6,1158,665,7,9,670,7,123,664,7,452,668,5,551,670,5,1388,659,4,1557,666,3,479,677,3,617,677,5,719,665,4,719,680,4,925,679,2,1020,675,3,1020,678,5,1216,679,7,1320,677,8,1484,678,6,224,687,5,280,692,3,325,691,4,399,678,5,373,688,7,363,691,8,730,690,2,793,689,4,854,694,5,1248,685,5,1409,685,7,1451,693,5,96,695,8,114,704,5,405,696,4,686,689,8,804,700,6,938,700,6,1090,702,8,1128,705,8,192,704,7,228,703,8,468,706,7,535,710,3,609,704,3,1156,708,3,1101,708,7,356,704,7,348,716,7,21,722,6,251,713,5,630,717,5,218,727,6,872,724,3,1003,718,6,1097,725,6,1234,722,4,1301,720,3,1353,720,4,1416,729,5,1492,727,6,1552,705,3,436,731,3,739,725,6,671,745,3,1065,744,5,1328,736,3,943,743,7,490,745,5,700,751,5,719,753,3,60,754,5,120,748,6,141,755,8,435,759,3,284,758,5,481,758,7,602,754,6,796,755,7,1040,758,5,1176,746,7,1212,750,7,1229,757,6,1537,750,3,1537,758,3,1445,758,3,840,761,7,1247,766,7,1317,764,3,530,761,6,557,774,6,600,768,3,352,776,6,962,776,3,1158,783,6,1393,771,5,208,771,6,1446,775,3,50,789,5,230,794,8,351,797,7,745,787,3,893,787,5,611,788,6,471,793,4,660,790,5,662,793,3,550,792,6,1114,785,4,1107,795,3,1020,792,4,208,801,9,157,811,7,167,806,8,1184,800,7,1201,800,7,1273,798,8,1345,799,6,1497,796,7,1518,799,4,1355,808,6,1540,803,3,430,802,7,447,810,6,520,821,3,773,810,3,821,806,4,1433,804,3,211,816,8,474,818,6,1015,816,2,32,832,8,45,841,7,300,840,6,369,830,3,434,829,3,628,834,2,660,836,2,663,836,3,700,825,4,869,833,8,873,834,4,971,830,5,990,834,4,1038,838,3,1145,837,3,1118,845,3,1180,844,3,1266,829,7,1284,837,3,1399,826,6,1467,833,5,1467,850,7,226,841,7,285,855,7,386,861,3,547,840,4,549,853,3,781,847,5,954,850,3,1034,852,6,1204,862,5,1320,845,5,1510,864,3,473,863,3,1409,862,3,1373,874,8,568,871,6,623,891,3,815,860,7,965,871,3,967,877,5,1396,870,6,1527,877,3,1548,888,3,110,876,7,180,880,7,211,882,8,438,882,5,502,875,6,721,884,3,877,883,3,850,890,7,1099,885,4,1278,885,7,1281,893,5,1408,888,8,1479,886,5,468,892,7,355,888,6,845,907,4,1183,901,3,309,908,7,337,906,6,550,913,5,158,916,5,1279,910,3,1423,915,3,1507,909,7,44,912,7,59,933,7,254,917,8,272,920,8,280,920,8,366,922,2,442,922,7,697,928,3,722,918,3,747,933,2,877,917,6,878,928,3,1356,919,2,1184,923,3,1001,921,6,374,945,5,487,945,6,570,958,2,707,948,3,990,941,6,1043,940,4,1080,938,1,1337,935,3,1330,941,5,1469,941,7,1505,941,7,142,960,7,207,966,6,297,965,5,672,963,2,814,965,3,1016,955,3,957,964,5,1039,972,4,1099,969,4,1217,962,4,1239,958,3,1536,955,6,14,971,8,410,973,7,416,974,7,975,985,3,993,985,3,1006,996,4,1418,969,7,1453,976,6,1306,988,5,1386,981,7,1507,977,7,85,1002,4,211,999,4,222,1012,3,330,1008,8,518,992,5,520,1007,8,626,1012,3,866,1001,4,765,1006,4,1092,1001,5,1198,992,5,1211,1012,5,1469,1012,4,1558,992,3,250,1035,7,362,1034,6,680,1024,5,587,1039,6,953,1018,6,1340,1029,5,1431,1020,5,1425,1022,7,472,1043,7,322,1042,6,292,1061,5,697,1052,4,801,1052,2,876,1040,3,873,1050,3,958,1043,3,962,1053,6,1071,1053,3,1044,1062,3,1161,1053,5,1264,1054,4,1541,1040,1,1560,1040,3,383,1069,2,397,1076,5,82,1079,6,98,1075,6,217,1073,6,554,1077,8,571,1092,3,649,1076,6,681,1076,6,842,1069,3,905,1080,4,945,1080,3,1045,1073,5,1177,1069,3,1275,1075,6,1373,1074,5,1466,1066,5,615,1090,4,459,1099,4,963,1090,4,1122,1099,6,1523,1103,3,1542,1113,2,13,1135,6,262,1119,4,255,1122,6,471,1132,6,487,1140,5,558,1130,5,613,1130,1,733,1112,2,864,1116,5,885,1123,3,1000,1124,3,1020,1132,3,1193,1124,4,1279,1125,5,1295,1124,3,1383,1131,1,1471,1122,3,703,1143,6,783,1146,1,1111,1149,4,1505,1153,6,287,1168,4,297,1183,6,414,1168,3,495,1177,6,700,1173,6,558,1175,7,652,1177,8,669,1173,7,921,1160,1,832,1186,4,1300,1175,8,1309,1182,5,142,1188,2,520,1185,3,851,1197,5,997,1184,3,1020,1188,4,1040,1195,3,1210,1179,5,1412,1178,3,1438,1183,4,1391,1199,3,1415,1198,3,1480,1195,4,1540,1160,4,501,1206,6,606,1211,3,682,1212,6,762,1210,3,1124,1199,5,736,1216,6,1495,1217,4,305,1222,6,320,1217,4,335,1220,7,368,1229,3,397,1222,3,36,1232,5,578,1230,6,602,1235,2,726,1230,7,704,1236,6,947,1225,2,1075,1238,3,1270,1228,4,1282,1225,5,1381,1240,3,34,1257,4,388,1244,8,484,1247,5,623,1256,3,786,1240,6,827,1245,6,859,1248,2,1194,1236,3,1156,1247,5,1510,1246,3,1451,1254,5,750,1271,2,1035,1264,4,1070,1254,2,1402,1259,2,990,1273,6,951,1282,5,1123,1268,5,1128,1277,4,1235,1274,3,1364,1275,5,1539,1270,3,671,1285,2,781,1282,5,1488,1276,5,475,1290,4,577,1292,6,612,1291,6,830,1292,3,827,1305,3,1241,1295,5,1315,1288,4,1425,1295,2,207,1294,2,192,1302,7,362,1301,3,543,1297,3,712,1315,6,1142,1310,3,989,1321,2,1027,1310,4,1557,1294,8,1347,1315,3,1503,1303,4,1535,1306,4,1309,1318,5,1322,1305,4,461,1323,1,770,1319,4,688,1324,6,1420,1325,3,1552,1328,7,1082,1338,5,565,1333,2,592,1335,2,697,1340,6,257,1344,8,10,1334,4,36,1336,6,28,1340,6,1189,1340,4,1200,1335,3,1505,1333,5,867,1344,3,917,1343,4,795,1346,4,30,1359,3,346,1359,5,656,1353,3,566,1359,4,874,1355,3,913,1348,5,931,1356,2,1350,1352,3,1269,1366,5,1461,1367,2,801,1370,6,798,1376,2,1165,1375,3,989,1374,6,1394,1376,6,1527,1376,2,449,1381,6,711,1383,3,893,1391,6,1044,1386,4,1072,1387,5,830,1398,5,1150,1395,4,1157,1405,3,1326,1397,4,1345,1400,6,1352,1405,4,1552,1400,3,513,1400,4,112,1416,4,309,1412,5,7,1426,3,628,1405,3,731,1409,8,757,1408,8,987,1405,4,951,1419,4,988,1420,5,1242,1418,4,1440,1413,5,650,1425,4,438,1416,4,452,1414,2,519,1422,2,537,1436,3,806,1427,2,884,1436,6,1001,1442,8,1498,1429,4,1108,1440,2,1188,1451,3,1315,1448,1,1388,1442,8,726,1438,3,439,1457,1,783,1447,4,1514,1450,6,729,1458,3,1050,1468,3,1243,1469,3,1440,1458,4,1342,1468,5,1487,1467,6,1510,1469,4,321,1486,4,625,1469,3,623,1468,7,710,1474,3,856,1477,7,871,1483,8,900,1477,4,867,1498,3,1016,1491,4,1263,1486,3,1403,1481,7,1400,1490,6,1461,1497,5,1481,1503,3,1524,1490,5,1562,1478,3,181,1512,4,515,1511,4,1112,1508,7,1134,1508,6,1159,1504,6,1168,1520,6,1217,1518,7,1328,1511,3,1315,1514,3,1403,1511,3,1388,1517,2,1347,1537,3,762,1523,2,366,1549,6,627,1531,1,807,1541,3,922,1523,5,1014,1540,5,1002,1548,3,956,1552,3,1139,1553,6,1234,1546,5,1276,1540,3,1433,1530,7,1432,1542,6,1495,1533,3,1526,1524,3,1508,1545,4,740,1547,6,748,1545,5,828,1556,8,514,1564,4,
];

const bottomMiddle = [
124,42,7,126,42,6,514,10,4,514,36,2,681,66,3,721,74,5,790,82,5,328,94,5,821,12,6,881,18,7,897,27,8,981,10,4,1095,18,8,1185,25,8,1276,18,3,1288,50,3,1314,0,3,1390,5,3,1414,16,3,1485,12,2,1526,18,7,1339,51,4,1440,55,3,1441,70,5,1071,78,3,1063,98,8,1178,89,3,1271,116,5,1384,110,2,1483,122,3,1521,95,5,1547,100,6,1553,128,4,959,92,4,134,189,2,146,188,3,469,161,7,478,174,8,595,144,8,611,144,6,885,131,3,1306,136,3,1317,148,5,1178,151,7,1417,174,2,771,171,4,874,178,5,897,168,2,979,174,6,1065,179,4,1098,155,3,1159,180,3,1337,197,7,1526,196,2,548,218,6,942,190,3,955,214,3,921,224,4,976,224,4,1074,200,2,1132,200,5,1204,196,7,1219,211,4,1259,190,3,1274,198,3,592,246,3,606,257,7,664,237,5,642,261,5,574,280,5,589,270,7,1193,228,3,1188,254,3,1240,237,3,1296,251,3,1274,268,5,1374,258,6,1388,235,7,1462,235,2,1464,252,4,1354,272,2,325,284,2,330,284,1,835,278,3,850,289,2,666,300,7,671,318,7,951,304,4,977,310,4,981,310,5,1091,286,2,1171,296,4,1267,301,3,1277,316,3,1292,323,2,1498,301,4,1409,322,2,1134,326,3,1143,347,5,1239,322,7,638,370,5,889,387,4,1042,365,4,1329,369,6,1362,378,3,1469,361,4,1551,371,3,1567,345,3,1243,394,3,1248,404,4,1409,404,3,1423,422,5,1489,410,3,1141,428,3,1035,459,4,1340,445,5,1491,449,2,1502,460,4,1380,468,5,1378,468,4,1356,483,3,895,495,3,1239,479,2,1141,524,1,1519,508,3,1545,537,2,1492,536,3,1416,526,3,1395,531,4,1379,538,3,1525,561,3,1553,573,5,965,581,2,1433,577,5,1284,567,3,1291,566,5,1472,588,3,1512,597,3,1121,617,2,1530,612,6,1451,620,3,1481,628,5,1516,655,6,1531,651,4,1361,664,2,1412,692,4,1430,713,3,1418,695,3,1562,707,8,1568,725,3,1197,727,4,1177,741,4,1548,777,6,1415,796,3,1528,838,4,1543,840,4,1515,857,3,1553,870,3,1440,889,4,
];

const lowerRight = [
59,23,4,85,32,4,120,44,3,175,16,2,257,16,3,341,10,1,409,16,3,468,10,2,470,36,3,500,29,3,545,50,4,562,23,3,592,48,3,636,41,5,710,30,4,721,38,5,764,16,4,879,12,6,922,6,2,1109,22,4,1275,28,5,1235,8,5,829,48,3,778,58,7,810,59,4,932,53,3,948,59,7,972,62,2,1018,52,5,223,45,3,303,48,3,299,43,7,150,10,6,8,67,3,95,82,3,169,69,6,191,87,5,263,78,2,268,92,5,325,77,4,373,80,7,395,87,7,411,58,7,614,72,3,554,74,3,684,75,5,703,87,4,755,89,6,769,89,6,789,97,4,871,85,3,1051,84,8,1158,73,2,1155,98,6,1039,98,2,17,113,5,33,108,3,67,118,7,157,117,6,333,118,2,419,110,3,481,95,4,513,93,4,500,69,3,581,85,3,631,93,3,656,115,4,672,106,6,700,120,4,560,108,4,898,100,6,917,118,4,971,118,6,846,115,5,1141,120,3,122,135,6,132,143,5,204,134,6,226,134,6,244,128,4,281,133,3,388,138,5,435,147,6,465,123,4,501,135,3,538,132,3,526,116,4,628,134,6,589,130,2,766,133,3,677,144,3,911,136,7,1040,135,3,1143,131,4,58,151,8,33,159,3,326,152,3,327,163,4,573,153,3,597,146,3,904,154,5,818,153,7,724,155,3,505,154,3,620,159,3,153,167,3,165,168,3,240,172,5,374,177,3,384,179,3,460,178,4,492,160,4,655,167,4,830,167,5,982,166,5,1075,176,3,555,173,5,540,181,6,733,172,4,88,186,5,283,196,4,407,187,3,625,191,3,697,191,3,893,192,3,1191,182,7,1193,192,8,1220,190,4,1401,172,5,1411,183,3,22,199,2,124,203,5,207,200,4,228,193,4,460,201,3,476,192,2,508,207,2,576,204,4,591,210,5,781,202,5,238,203,4,339,211,3,420,208,5,637,215,4,35,222,6,5,224,4,177,222,4,208,213,5,218,218,4,352,219,4,475,217,3,586,225,5,696,227,4,836,224,4,843,233,3,973,222,3,1019,233,3,70,233,3,128,247,7,218,244,4,272,250,6,375,236,5,388,249,3,427,251,3,318,246,3,323,247,3,497,255,3,508,249,2,610,246,3,748,243,7,904,247,3,42,263,3,30,273,5,375,266,6,591,269,4,670,268,6,878,267,7,1174,268,5,1325,275,8,122,289,5,201,286,3,284,284,7,300,293,5,454,285,3,508,285,2,750,282,4,837,285,4,854,291,3,664,282,4,658,295,3,985,295,5,1012,289,3,274,308,3,13,307,3,332,299,4,403,293,6,889,301,3,155,327,3,821,313,2,461,323,3,553,323,5,625,323,4,371,319,5,642,333,4,87,336,5,213,337,1,314,342,2,396,334,4,707,338,4,731,347,3,754,342,3,1145,343,5,1155,351,3,960,351,5,952,354,6,349,363,6,432,365,6,500,353,5,581,360,4,824,358,3,890,361,2,905,356,3,650,370,5,251,367,5,255,379,4,6,360,3,76,384,5,157,380,4,162,378,4,395,378,3,431,380,4,576,381,4,759,378,4,959,382,3,315,384,4,342,390,5,499,389,4,688,398,6,734,397,3,1326,400,5,1381,397,3,1403,382,2,1411,398,3,414,399,6,815,408,6,829,409,7,863,421,7,1001,417,3,1041,403,4,36,417,6,221,411,4,244,426,5,533,416,4,596,417,4,587,423,6,747,423,6,452,420,3,118,431,5,137,429,5,384,435,5,460,432,4,522,437,4,910,437,4,932,436,4,957,434,3,990,431,2,1143,429,2,1403,420,3,457,450,4,200,455,7,227,461,5,671,447,8,672,466,6,695,461,8,755,462,3,808,462,2,38,467,4,67,465,6,322,465,7,5,463,5,556,466,3,136,477,4,124,482,3,168,492,3,6,487,3,398,491,5,417,501,6,484,498,8,253,502,6,273,504,6,613,494,3,813,494,7,904,498,6,1017,508,4,1293,486,2,70,511,3,58,509,6,149,515,3,316,520,2,550,510,6,689,507,5,743,518,7,757,522,5,900,518,4,1132,516,2,1157,520,4,638,524,3,210,529,6,224,537,6,136,538,4,400,543,5,586,535,3,564,543,6,482,545,7,675,547,3,818,552,2,76,552,7,13,556,6,171,565,3,729,569,2,905,563,3,87,576,2,114,572,6,339,571,2,240,572,4,254,571,4,66,585,6,13,587,3,445,589,7,499,589,8,576,583,3,618,569,5,1030,585,7,1132,590,7,1296,586,3,1352,566,4,1366,580,2,1347,582,3,1370,598,3,113,607,4,186,614,3,214,621,3,292,617,6,378,618,6,657,603,4,679,614,3,768,606,3,788,611,5,819,608,4,918,618,3,1050,606,6,21,623,1,99,629,4,109,640,5,580,613,5,584,632,4,473,635,3,617,645,4,562,650,3,1168,623,5,1138,639,7,1145,645,7,1040,644,6,12,655,5,181,660,4,190,665,4,260,662,5,331,662,3,349,654,5,435,643,4,463,668,3,808,654,3,872,655,3,930,655,4,759,649,4,787,662,3,1030,670,4,421,672,4,720,672,4,653,674,3,77,677,8,523,676,6,115,692,6,197,696,6,315,696,3,295,700,5,353,692,4,369,691,3,411,686,6,417,701,4,462,694,3,739,692,3,1277,688,2,1293,685,3,9,700,4,640,696,5,578,702,4,852,694,4,868,694,4,203,708,4,380,719,3,451,724,3,688,709,4,682,723,3,909,717,3,862,716,5,990,725,2,799,720,7,870,716,5,857,730,3,35,729,5,42,745,4,135,744,5,185,738,5,259,729,5,400,734,7,508,730,3,646,733,9,745,729,3,279,745,3,305,744,3,372,745,4,179,755,5,265,759,4,1149,733,4,1145,738,4,1117,748,4,1129,752,3,570,747,4,636,760,3,688,752,6,699,744,2,751,756,2,597,762,3,664,763,2,936,744,4,939,757,5,988,755,6,896,752,3,290,768,4,360,768,3,425,774,6,463,768,6,510,765,7,545,775,4,826,764,3,672,778,3,702,775,6,712,778,7,763,778,3,784,782,3,11,794,2,89,786,4,90,796,5,139,790,5,206,789,8,1032,790,4,540,793,6,785,800,3,212,800,7,892,788,5,871,794,7,950,799,2,240,804,6,344,799,4,313,815,3,438,806,3,498,808,3,403,814,4,156,825,7,191,827,6,200,834,4,340,826,4,363,822,3,493,822,6,549,824,3,597,813,3,689,815,4,703,796,6,739,811,4,795,813,3,818,811,4,1221,813,3,623,824,6,334,836,4,445,832,3,393,837,6,887,835,3,119,842,6,1,849,2,118,857,7,30,850,4,277,848,4,393,850,6,512,843,6,569,850,3,605,843,2,666,846,8,670,853,5,761,855,3,811,855,3,785,850,2,1049,844,5,290,867,5,467,864,2,206,885,2,290,878,6,362,871,5,421,882,6,540,878,6,605,880,1,674,881,4,787,879,6,949,871,3,38,908,2,45,893,4,130,912,3,294,905,3,373,897,4,400,900,6,527,898,5,709,891,3,1145,888,4,1130,899,3,869,905,4,299,919,2,438,911,7,441,912,8,527,903,5,650,917,3,762,910,3,867,926,6,1011,922,7,96,934,3,215,924,3,400,924,5,415,926,6,431,932,4,580,930,5,681,931,2,223,935,2,702,941,2,499,940,4,547,940,5,71,946,5,302,948,3,286,967,1,168,963,3,15,970,3,29,969,2,150,974,7,156,972,7,498,965,4,635,968,5,643,988,1,777,962,5,862,979,1,963,982,1,70,992,3,102,997,3,377,986,5,540,982,4,706,988,3,1106,988,5,1099,1002,4,1094,1011,4,108,1010,3,212,1009,4,317,1020,3,167,1018,3,171,1022,4,463,1001,3,470,1006,3,43,1024,6,784,1015,5,589,1022,3,183,1033,4,597,1037,6,393,1036,6,693,1034,3,1000,1036,3,490,1036,2,32,1050,3,270,1044,3,862,1038,3,868,1045,1,484,1057,3,772,1054,3,740,1068,4,119,1071,3,120,1083,2,358,1076,4,253,1084,6,261,1094,5,357,1083,4,393,1092,6,347,1102,6,566,1079,2,618,1093,3,655,1082,3,678,1082,2,802,1093,4,63,1111,3,89,1108,4,148,1106,2,938,1093,4,913,1112,2,447,1114,3,518,1107,4,918,1125,3,1009,1127,2,205,1123,4,200,1138,3,117,1132,2,8,1132,4,254,1131,3,241,1137,6,494,1122,4,558,1130,4,630,1124,4,784,1133,3,700,1131,4,334,1136,6,363,1138,3,441,1142,4,487,1148,5,535,1141,3,608,1150,3,98,1145,8,46,1150,3,135,1155,2,134,1172,8,274,1149,7,353,1164,4,360,1165,2,387,1159,6,461,1160,5,634,1157,3,670,1163,3,734,1170,4,830,1169,3,87,1168,7,152,1175,4,214,1170,4,308,1172,4,428,1178,4,474,1178,4,492,1172,6,522,1164,6,570,1165,2,375,1184,4,533,1187,3,595,1178,3,620,1187,2,704,1183,4,677,1188,3,668,1190,4,768,1191,4,47,1198,1,296,1201,5,456,1198,4,205,1195,3,135,1204,4,489,1212,3,545,1212,2,600,1205,4,121,1212,4,730,1207,3,723,1212,2,703,1222,4,915,1209,2,908,1222,4,796,1228,4,39,1219,4,59,1229,10,175,1222,5,375,1217,1,501,1222,6,432,1226,3,636,1217,6,557,1236,3,581,1240,3,600,1232,4,613,1254,5,657,1243,5,534,1238,6,26,1237,6,82,1234,3,289,1240,3,237,1249,5,460,1237,5,54,1255,5,111,1253,2,344,1257,2,425,1251,2,525,1259,3,489,1263,3,491,1250,4,127,1274,3,192,1276,6,467,1270,5,558,1272,4,635,1271,3,9,1282,4,47,1282,8,289,1281,4,403,1288,2,470,1288,4,512,1285,4,672,1301,2,138,1310,2,265,1314,3,505,1305,1,457,1308,4,320,1311,5,18,1323,3,310,1327,4,356,1316,3,510,1326,4,188,1334,6,242,1335,7,293,1338,2,349,1333,3,376,1341,3,430,1332,4,607,1334,2,262,1346,7,497,1345,6,94,1357,4,277,1359,5,349,1360,4,390,1364,2,156,1368,3,233,1362,3,249,1368,6,315,1370,3,176,1376,3,360,1376,6,433,1367,6,558,1370,5,413,1380,3,495,1383,3,681,1385,1,382,1400,1,422,1392,3,443,1404,7,548,1413,2,303,1412,5,375,1422,3,421,1412,4,423,1428,5,346,1436,5,159,1441,8,383,1432,2,455,1438,5,384,1443,7,418,1445,3,260,1452,3,278,1447,6,366,1453,8,257,1465,6,321,1461,3,254,1468,6,341,1471,5,388,1476,3,333,1492,4,433,1493,2,395,1504,2,394,1522,6,
];

// crop windows of the reference the arrays above were read from
const crops = [
  { dots: upperLeft, x0: 0, y0: 0, w: 1000, h: 800 },
  { dots: upperMiddle, x0: 1000, y0: 100, w: 1000, h: 800 },
  { dots: rightTop, x0: 2000, y0: 100, w: 1000, h: 500, ph: 1500 },
  { dots: rightMiddle, x0: 2000, y0: 600, w: 1000, h: 800 },
  { dots: lowerLeft, x0: 0, y0: 800, w: 1000, h: 1000 },
  { dots: centre, x0: 1000, y0: 900, w: 1000, h: 800 },
  { dots: bottomMiddle, x0: 1000, y0: 1700, w: 1000, h: 600 },
  { dots: lowerRight, x0: 2000, y0: 1400, w: 1000, h: 800 },
];

// colour level -> position on the plasma colormap
const levels = [1, 3, 5, 6, 7, 8, 9, 10];
const plasmaStops = [0.06, 0.24, 0.38, 0.48, 0.64, 0.78, 0.88, 0.98];
const levelToT = d3.scaleLinear().domain(levels).range(plasmaStops);

export default function App() {
  const points = useMemo(() => {
    const out: { x: number; y: number; c: number }[] = [];
    crops.forEach(crop => {
      const xScale = d3.scaleLinear().domain([0, 1568]).range([crop.x0, crop.x0 + crop.w]);
      const yScale = d3.scaleLinear().domain([0, crop.ph || 1568]).range([crop.y0, crop.y0 + crop.h]);
      for (let i = 0; i < crop.dots.length; i += 3) {
        out.push({ x: xScale(crop.dots[i]), y: yScale(crop.dots[i + 1]), c: crop.dots[i + 2] });
      }
    });
    return out;
  }, []);

  return (
    <svg width={3096} height={2337} style={{ position: 'absolute', left: 0, top: 0, background: 'white' }}>
      {points.map((d, i) => (
        <circle key={i} cx={d.x} cy={d.y} r={8.3} fill={d3.interpolatePlasma(levelToT(d.c))} fillOpacity={0.8} />
      ))}
      <rect x={60.2} y={59.3} width={2976.3} height={2217.8} fill="none" stroke="black" strokeWidth={6.25} />
    </svg>
  );
}
